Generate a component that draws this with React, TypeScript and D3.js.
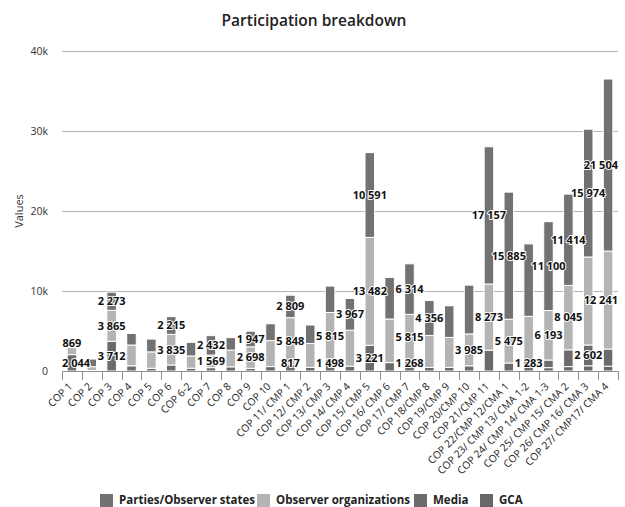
import React from "react";
import * as d3 from "d3";

const categories = [
  "COP 1", "COP 2", "COP 3", "COP 4", "COP 5", "COP 6", "COP 6-2", "COP 7", "COP 8", "COP 9", "COP 10",
  "COP 11/ CMP 1", "COP 12/ CMP 2", "COP 13/ CMP 3", "COP 14/ CMP 4", "COP 15/ CMP 5", "COP 16/ CMP 6",
  "COP 17/ CMP 7", "COP 18/CMP 8", "COP 19/CMP 9", "COP 20/CMP 10", "COP 21/CMP 11",
  "COP 22/CMP 12/CMA 1", "COP 23/ CMP 13/ CMA 1-2", "COP 24/ CMP 14/ CMA 1-3", "COP 25/ CMP 15/ CMA 2",
  "COP 26/ CMP 16/ CMA 3", "COP 27/ CMP17/ CMA 4",
];
const parties = [0, 950, 2273, 1450, 1600, 2215, 1700, 2432, 1550, 1947, 2100, 2809, 2300, 3300, 3967, 10591, 5200, 6314, 4356, 3950, 6100, 17157, 15885, 9050, 11100, 11414, 15974, 21504];
const observers = [869, 480, 3865, 2600, 2050, 3835, 1530, 1569, 2100, 2698, 3250, 5848, 3000, 5815, 4500, 13482, 5450, 5815, 4000, 3750, 3985, 8273, 5475, 5550, 6193, 8045, 11000, 12241];
const media = [2044, 60, 3712, 650, 340, 750, 350, 420, 520, 330, 550, 817, 450, 1498, 600, 3221, 1050, 1268, 450, 450, 650, 2600, 1000, 1283, 950, 2100, 2602, 2150];
const gca = [0, 0, 0, 0, 0, 0, 0, 0, 0, 0, 0, 0, 0, 0, 0, 0, 0, 0, 0, 0, 0, 0, 0, 0, 420, 550, 650, 600];

// which data labels are visible (1 = shown)
const partiesLabelShown = [0, 0, 1, 0, 0, 1, 0, 1, 0, 1, 0, 1, 0, 0, 1, 1, 0, 1, 1, 0, 0, 1, 1, 0, 1, 1, 1, 1];
const observersLabelShown = [1, 0, 1, 0, 0, 1, 0, 1, 0, 1, 0, 1, 0, 1, 0, 1, 0, 1, 0, 0, 1, 1, 1, 0, 1, 1, 0, 1];
const mediaLabelShown = [1, 0, 1, 0, 0, 0, 0, 0, 0, 0, 0, 1, 0, 1, 0, 1, 0, 1, 0, 0, 0, 0, 0, 1, 0, 0, 1, 0];
const gcaLabelShown = [0, 0, 0, 0, 0, 0, 0, 0, 0, 0, 0, 0, 0, 0, 0, 0, 0, 0, 0, 0, 0, 0, 0, 0, 0, 0, 0, 0];

const yTicks = [0, 10000, 20000, 30000, 40000];
const seriesNames = ["Parties/Observer states", "Observer organizations", "Media", "GCA"];
const seriesKeys = ["parties", "observers", "media", "gca"];
const seriesColors = ["#727272", "#b4b4b4", "#6b6b6b", "#686868"];
const title = "Participation breakdown";
const yTitle = "Values";

const W = 625, H = 507;
const M = { left: 62, right: 618, top: 51, bottom: 371 };

const fmt = d3.formatLocale({ decimal: ".", thousands: " ", grouping: [3], currency: ["", ""] }).format(",");
const tickFmt = (v: number) => (v === 0 ? "0" : `${v / 1000}k`);

let ctx: CanvasRenderingContext2D | null = null;
function measure(text: string, font: string) {
  if (!ctx) ctx = document.createElement("canvas").getContext("2d");
  if (!ctx) return text.length * 6;
  ctx.font = font;
  return ctx.measureText(text).width;
}

export default function App() {
  const rows = categories.map((c, i) => ({
    cat: c,
    parties: parties[i],
    observers: observers[i],
    media: media[i],
    gca: gca[i],
  }));
  const shown: Record<string, number[]> = {
    parties: partiesLabelShown,
    observers: observersLabelShown,
    media: mediaLabelShown,
    gca: gcaLabelShown,
  };
  const colorOf: Record<string, string> = {};
  seriesKeys.forEach((k, i) => (colorOf[k] = seriesColors[i]));

  const stackKeys = ["gca", "media", "observers", "parties"];
  const stacked = d3.stack<any>().keys(stackKeys)(rows);

  const x = d3.scaleBand<string>().domain(categories).range([M.left, M.right]).paddingInner(0.52).paddingOuter(0.26);
  const y = d3.scaleLinear().domain([0, 40000]).range([M.bottom, M.top]);
  const step = x.step();
  const bw = x.bandwidth();

  const labelFont = "bold 11px 'Open Sans'";
  const labels: any[] = [];
  stacked.forEach((layer) => {
    const key = layer.key;
    layer.forEach((d, i) => {
      if (!shown[key][i]) return;
      const v = d[1] - d[0];
      if (v <= 0) return;
      const y0 = y(d[0]), y1 = y(d[1]);
      const h = y0 - y1;
      const isTop = stackKeys.slice(stackKeys.indexOf(key) + 1).every((k) => (rows[i] as any)[k] === 0);
      let cy = (y0 + y1) / 2;
      if (isTop && h < 12) cy = y1 - 5;
      cy = Math.min(cy, M.bottom - 8);
      const text = fmt(v);
      const w = measure(text, labelFont);
      let cx = (x(categories[i]) as number) + bw / 2;
      cx = Math.max(M.left + w / 2, Math.min(M.right - w / 2, cx));
      labels.push({ key: key + i, text, cx, cy });
    });
  });

  const legendX = [100, 257, 414, 480];

  return (
    <svg width={W} height={H} style={{ position: "absolute", left: 0, top: 0, background: "#fff" }} fontFamily="'Open Sans', sans-serif">
      <text x={314} y={26} textAnchor="middle" fontSize={15.5} fontWeight={600} fill="#222">{title}</text>

      {/* grid */}
      {yTicks.filter((t) => t > 0).map((t) => (
        <line key={t} x1={M.left} x2={M.right} y1={Math.round(y(t)) + 0.5} y2={Math.round(y(t)) + 0.5} stroke="#b2b2b2" strokeWidth={1} />
      ))}
      {yTicks.map((t) => (
        <text key={"yt" + t} x={48} y={y(t)} dy="0.35em" textAnchor="end" fontSize={10.5} fill="#333">{tickFmt(t)}</text>
      ))}
      <text transform={`translate(19,${(M.top + M.bottom) / 2}) rotate(-90)`} textAnchor="middle" dy="0.35em" fontSize={11} fill="#333">{yTitle}</text>

      {/* bars */}
      {stacked.map((layer) => (
        <g key={layer.key} fill={colorOf[layer.key]}>
          {layer.map((d, i) => {
            const h = y(d[0]) - y(d[1]);
            if (h <= 0) return null;
            return (
              <rect key={i} x={(x(categories[i]) as number)} y={y(d[1])} width={bw} height={h} stroke="#fff" strokeWidth={1} />
            );
          })}
        </g>
      ))}

      {/* x axis */}
      <line x1={M.left} x2={M.right} y1={M.bottom + 0.5} y2={M.bottom + 0.5} stroke="#8f8f8f" />
      {d3.range(categories.length + 1).map((i) => {
        const tx = Math.round(M.left + i * step) + 0.5;
        return <line key={"tk" + i} x1={tx} x2={tx} y1={M.bottom} y2={M.bottom + 9} stroke="#8f8f8f" />;
      })}
      {categories.map((c) => {
        const cx = (x(c) as number) + bw / 2;
        return (
          <text key={"xl" + c} transform={`translate(${cx + 1},${M.bottom + 16}) rotate(-45)`} textAnchor="end" fontSize={10.3} fill="#222">{c}</text>
        );
      })}

      {/* data labels */}
      {labels.map((l) => (
        <text key={l.key} x={l.cx} y={l.cy} dy="0.35em" textAnchor="middle" fontSize={11} fontWeight="bold" fill="#111"
          stroke="#fff" strokeWidth={2} strokeLinejoin="round" style={{ paintOrder: "stroke" }}>{l.text}</text>
      ))}

      {/* legend */}
      {seriesNames.map((n, i) => (
        <g key={n}>
          <rect x={legendX[i]} y={494} width={13} height={13} fill={seriesColors[i]} />
          <text x={legendX[i] + 19} y={504} fontSize={11.5} fontWeight="bold" fill="#222">{n}</text>
        </g>
      ))}
    </svg>
  );
}
